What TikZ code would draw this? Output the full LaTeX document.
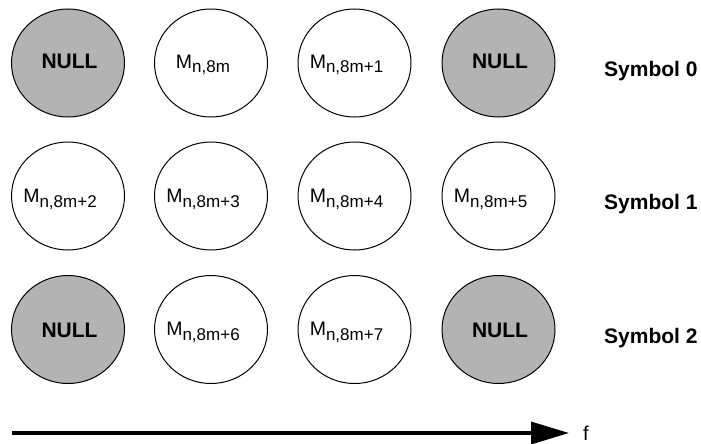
\documentclass[tikz,border=0pt]{standalone}
\usepackage{fontspec}
\setmainfont{Liberation Sans}
\usetikzlibrary{arrows.meta,shapes.geometric}
\definecolor{nullgray}{HTML}{B3B3B3}
\newcommand{\MsubX}[1]{{\fontsize{19.5}{22}\selectfont M}\raisebox{-5pt}{\fontsize{17}{20}\selectfont #1}}
\begin{document}
\begin{tikzpicture}[x=1pt,y=-1pt,
  cell/.style={draw=black, line width=1pt, ellipse, minimum width=113pt, minimum height=108pt, inner sep=0pt},
  nullcell/.style={cell, fill=nullgray},
  nulltext/.style={font=\fontsize{21}{24}\selectfont\bfseries, anchor=base, inner sep=0pt},
  mtext/.style={anchor=base, inner sep=0pt},
  symlabel/.style={font=\fontsize{21}{24}\selectfont\bfseries, anchor=base west, inner sep=0pt},
  flabel/.style={font=\fontsize{20}{22}\selectfont, anchor=base west, inner sep=0pt},
  axis/.style={line width=3.5pt, -{Triangle[length=38pt,width=22pt]}}
]
\useasboundingbox (0,0) rectangle (701,444);
% row 0
\node[nullcell] (c00) at (68,63) {};
\node[cell]     (c01) at (211,63) {};
\node[cell]     (c02) at (354.5,63) {};
\node[nullcell] (c03) at (498.5,63) {};
\node[nulltext] (t00) at (69.5,69) {NULL};
\node[mtext]    (t01) at (203,68) {\MsubX{n,8m}};
\node[mtext]    (t02) at (346.5,68) {\MsubX{n,8m+1}};
\node[nulltext] (t03) at (500,69) {NULL};
\node[symlabel] (s0) at (604,76) {Symbol 0};
% row 1
\node[cell] (c10) at (68,196) {};
\node[cell] (c11) at (211,196) {};
\node[cell] (c12) at (354.5,196) {};
\node[cell] (c13) at (498.5,196) {};
\node[mtext] (t10) at (60,202) {\MsubX{n,8m+2}};
\node[mtext] (t11) at (203,202) {\MsubX{n,8m+3}};
\node[mtext] (t12) at (346.5,202) {\MsubX{n,8m+4}};
\node[mtext] (t13) at (490.5,202) {\MsubX{n,8m+5}};
\node[symlabel] (s1) at (604,209.5) {Symbol 1};
% row 2
\node[nullcell] (c20) at (68,329.5) {};
\node[cell]     (c21) at (211,329.5) {};
\node[cell]     (c22) at (354.5,329.5) {};
\node[nullcell] (c23) at (498.5,329.5) {};
\node[nulltext] (t20) at (69.5,337) {NULL};
\node[mtext]    (t21) at (203,335.5) {\MsubX{n,8m+6}};
\node[mtext]    (t22) at (346.5,335.5) {\MsubX{n,8m+7}};
\node[nulltext] (t23) at (500,337) {NULL};
\node[symlabel] (s2) at (604,343) {Symbol 2};
% frequency axis
\coordinate (a0) at (12,433);
\coordinate (a1) at (569,433);
\node[flabel] (f) at (583,440) {f};
\draw[axis] (a0) -- (a1);
\end{tikzpicture}
\end{document}
